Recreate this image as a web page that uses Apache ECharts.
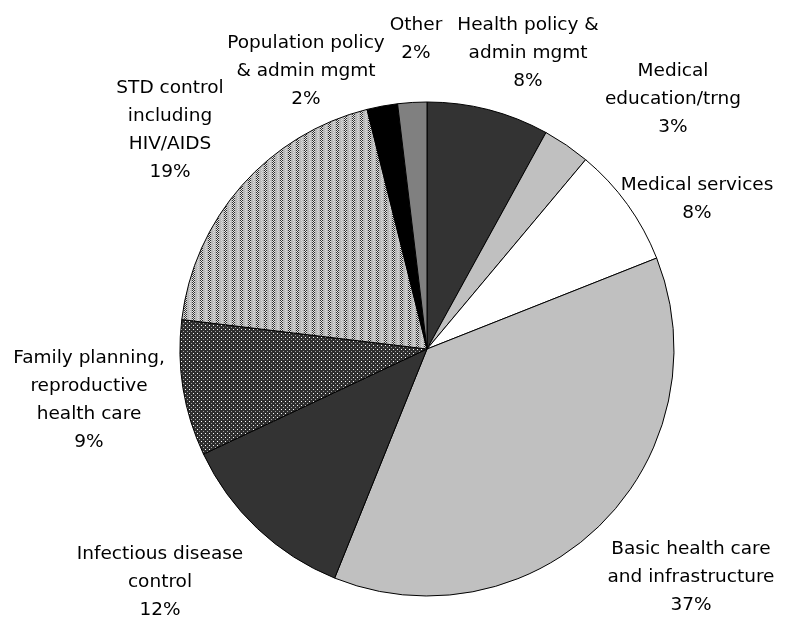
<!DOCTYPE html>
<html><head><meta charset="utf-8">
<script src="https://cdn.jsdelivr.net/npm/echarts@6/dist/echarts.min.js"></script>
<style>html,body{margin:0;padding:0;background:#fff}#c{width:804px;height:618px}</style>
</head><body><div id="c"></div>
<script>
const categories = [
  'Health policy &\nadmin mgmt',
  'Medical\neducation/trng',
  'Medical services',
  'Basic health care\nand infrastructure',
  'Infectious disease\ncontrol',
  'Family planning,\nreproductive\nhealth care',
  'STD control\nincluding\nHIV/AIDS',
  'Population policy\n& admin mgmt',
  'Other'
];
const shares = [8.0, 3.1, 7.9, 37.1, 11.9, 8.9, 19.2, 2.0, 1.9];

// label anchor points (centre of each text block)
const labelAnchors = [[528,53],[673,99],[697,199],[691,577],[160,582],[89,400],[170,130],[306,71],[416,39]];

function makePattern(w, h, painter) {
  const c = document.createElement('canvas');
  c.width = w; c.height = h;
  const g = c.getContext('2d');
  painter(g);
  return c;
}
const stdPattern = makePattern(8, 2, g => {
  g.fillStyle = '#b8b8b8'; g.fillRect(0, 0, 8, 2);
  for (let y = 0; y < 2; y++) for (let x = 0; x < 3; x++) {
    g.fillStyle = ((x + y) % 2) ? '#e8e8e8' : '#303030';
    g.fillRect(x, y, 1, 1);
  }
  g.fillStyle = '#d8d8d8'; g.fillRect(5, 0, 1, 1); g.fillRect(6, 1, 1, 1);
});
const fpPattern = makePattern(4, 4, g => {
  g.fillStyle = '#2e2e2e'; g.fillRect(0, 0, 4, 4);
  g.fillStyle = '#ffffff'; g.fillRect(1, 1, 1, 1);
  g.fillStyle = '#a0a0a0'; g.fillRect(3, 3, 1, 1);
});

const fills = [
  '#333333', '#c0c0c0', '#ffffff', '#c0c0c0', '#333333',
  {image: fpPattern, repeat: 'repeat'},
  {image: stdPattern, repeat: 'repeat'},
  '#000000', '#808080'
];

const chart = echarts.init(document.getElementById('c'), null, {renderer: 'canvas'});
chart.setOption({
  backgroundColor: '#ffffff',
  animation: false,
  series: [{
    type: 'pie',
    center: [427, 349],
    radius: 247,
    startAngle: 90,
    clockwise: true,
    avoidLabelOverlap: false,
    data: shares.map((v, i) => ({name: categories[i], value: v, itemStyle: {color: fills[i]}})),
    itemStyle: {borderColor: '#000000', borderWidth: 1},
    label: {
      show: true,
      position: 'outside',
      formatter: p => p.name + '\n' + Math.round(p.percent) + '%',
      fontFamily: 'DejaVu Sans',
      fontSize: 18.5,
      lineHeight: 28,
      color: '#000000',
      align: 'center'
    },
    labelLine: {show: false},
    labelLayout: params => {
      const p = labelAnchors[params.dataIndex];
      return {x: p[0], y: p[1], align: 'center', verticalAlign: 'middle'};
    },
    emphasis: {disabled: true}
  }]
});
</script>
</body></html>
